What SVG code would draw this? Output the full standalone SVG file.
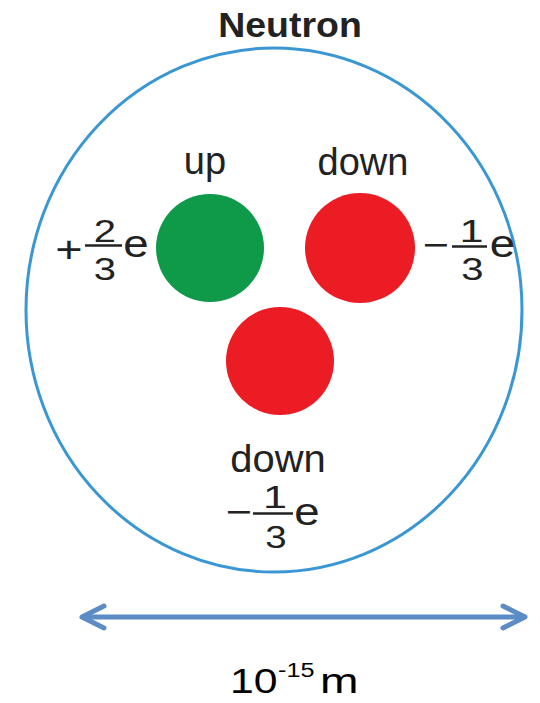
<svg xmlns="http://www.w3.org/2000/svg" width="540" height="703" viewBox="0 0 540 703">
<style>
.t{font-family:"Liberation Sans",Arial,Helvetica,sans-serif;fill:#222;}
.lbl{font-size:38px;text-anchor:middle;}
.num{font-size:32px;text-anchor:middle;}
.sym{font-size:36px;text-anchor:middle;}
.e{font-size:38px;text-anchor:middle;}
.bar{stroke:#222;stroke-width:2.5;}
.s{font-family:"Liberation Sans",Arial,sans-serif;fill:#000;}
</style>
<defs>
<marker id="head" viewBox="0 0 12 12" refX="10" refY="6" markerWidth="12" markerHeight="12" markerUnits="userSpaceOnUse" orient="auto-start-reverse" overflow="visible">
<path d="M-12,-5 L10,6 L-12,17" fill="none" stroke="#5b8cc6" stroke-width="5" stroke-linecap="round" stroke-linejoin="round"/>
</marker>
</defs>
<rect width="540" height="703" fill="#fff"/>
<g id="neutron">
<ellipse cx="274" cy="310" rx="248" ry="262" fill="none" stroke="#3a97d4" stroke-width="3"/>
<text class="t" transform="translate(290,37) scale(1.07,1)" font-size="35" font-weight="bold" text-anchor="middle">Neutron</text>
</g>
<g id="quark-up">
<circle cx="210" cy="248" r="54" fill="#0f9a4a"/>
<text class="t lbl" x="205" y="174">up</text>
<text class="t sym" transform="translate(69,262) scale(1.3,1)">+</text>
<text class="t num" transform="translate(105,242) scale(1.25,1)">2</text>
<line class="bar" x1="85" y1="245.5" x2="122" y2="245.5"/>
<text class="t num" transform="translate(105,280) scale(1.25,1)">3</text>
<text class="t e" transform="translate(136,257) scale(1.2,1)">e</text>
</g>
<g id="quark-down-right">
<circle cx="360" cy="248" r="55" fill="#ec1c24"/>
<text class="t lbl" x="363" y="175">down</text>
<text class="t sym" transform="translate(436,257) scale(1.25,1)">−</text>
<text class="t num" transform="translate(471.5,242) scale(1.35,1)">1</text>
<line class="bar" x1="452" y1="246.5" x2="487" y2="246.5"/>
<text class="t num" transform="translate(472.5,280) scale(1.25,1)">3</text>
<text class="t e" transform="translate(502.5,257) scale(1.2,1)">e</text>
</g>
<g id="quark-down-bottom">
<circle cx="280" cy="361" r="54" fill="#ec1c24"/>
<text class="t lbl" transform="translate(278,472) scale(1.05,1)">down</text>
<text class="t sym" transform="translate(239,524) scale(1.25,1)">−</text>
<text class="t num" font-size="31" transform="translate(275,508) scale(1.35,1)">1</text>
<line class="bar" x1="253" y1="513.5" x2="293" y2="513.5"/>
<text class="t num" font-size="35" transform="translate(276,548) scale(1.2,1)">3</text>
<text class="t e" transform="translate(307,525) scale(1.2,1)">e</text>
</g>
<g id="connectors">
<line x1="82" y1="617" x2="525" y2="617" stroke="#5b8cc6" stroke-width="5" marker-start="url(#head)" marker-end="url(#head)"/>
</g>
<g id="scale-label">
<text class="s" transform="translate(230,693) scale(1.22,1)" font-size="35">10</text>
<text class="s" transform="translate(278,677) scale(1.2,1)" font-size="21">-15</text>
<text class="s" transform="translate(320,693) scale(1.32,1)" font-size="35">m</text>
</g>
</svg>
